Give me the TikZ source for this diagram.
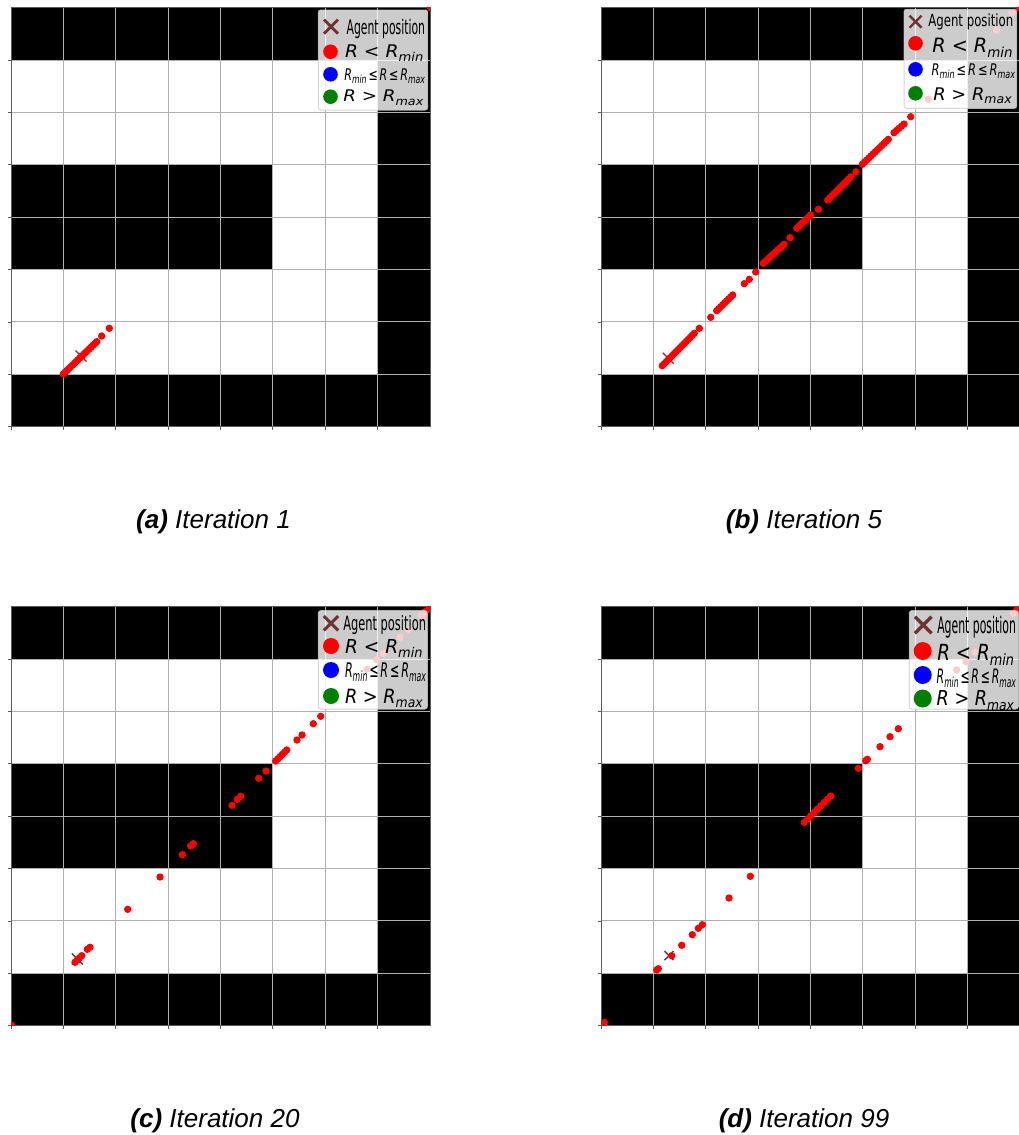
\documentclass[tikz,border=0pt]{standalone}
\usepackage{fontspec}
\setmainfont{Liberation Sans}
\newfontfamily\dvs{DejaVu Sans}
\usepackage{graphicx}
\usetikzlibrary{calc}
\definecolor{agent}{RGB}{110,50,50}
\definecolor{gridc}{RGB}{176,176,176}
\definecolor{spinec}{RGB}{90,90,90}
\definecolor{lgreen}{RGB}{0,128,0}
\tikzset{
 reddot/.style={fill=red},
 gridline/.style={draw=gridc, line width=1pt},
 spine/.style={draw=spinec, line width=1pt},
 tickmark/.style={draw=spinec, line width=0.8pt},
 legendbox/.style={fill=white, fill opacity=0.8, draw=gray!40, draw opacity=0.8, rounded corners=2.5pt, line width=1pt},
 lgtxt/.style={anchor=base west, inner sep=0pt, outer sep=0pt},
 agentx/.style={draw=agent, line width=1.4pt},
 legx/.style={draw=agent, line width=2.6pt},
 caption/.style={anchor=base, inner sep=0pt, font=\fontsize{26}{30}\selectfont},
}
\newcommand\C{52.375}
\newcommand\mapgrid[2]{%
\begin{scope}[shift={(#1,#2)}]
 \fill[black] (0,0) rectangle ({8*\C},{\C});
 \fill[black] (0,{7*\C}) rectangle ({8*\C},{8*\C});
 \fill[black] ({7*\C},{\C}) rectangle ({8*\C},{7*\C});
 \fill[black] (0,{3*\C}) rectangle ({5*\C},{5*\C});
 \foreach \k in {1,...,7}{
   \draw[gridline] ({\k*\C},0) -- ({\k*\C},{8*\C});
   \draw[gridline] (0,{\k*\C}) -- ({8*\C},{\k*\C});
 }
 \draw[spine] (0,0) rectangle ({8*\C},{8*\C});
 \foreach \k in {1,...,8}{\draw[tickmark] (-3.5,{\k*\C}) -- (0,{\k*\C});}
 \foreach \k in {0,...,7}{\draw[tickmark] ({\k*\C},{8*\C}) -- ({\k*\C},{8*\C+3.5});}
\end{scope}}
\newcommand\dt[2]{\fill[reddot] (#1,#2) circle (3.7pt);}
\newcommand\drun[5]{\foreach \i in {0,...,#5}{\fill[reddot] ($(#1,#2)!{\i/#5}!(#3,#4)$) circle (3.7pt);}}
\newcommand\ax[3]{\draw[agentx] ({#1-#3},{#2-#3}) -- ({#1+#3},{#2+#3}) ({#1-#3},{#2+#3}) -- ({#1+#3},{#2-#3});}
\newcommand\lx[4]{\draw[legx,line width=#4pt] ({#1-#3},{#2-#3}) -- ({#1+#3},{#2+#3}) ({#1-#3},{#2+#3}) -- ({#1+#3},{#2-#3});}
\newcommand\lt[6]{\node[lgtxt] (#1) at (#2,#3) {\resizebox{#4pt}{#5pt}{#6}};}
\newcommand\subtxt[1]{\raisebox{-0.22em}{\scalebox{0.7}{#1}}}
\newcommand\tAgent{\dvs Agent position}
\newcommand\tRmin{\dvs\itshape R < R\subtxt{min}}
\newcommand\tMid{\dvs\itshape R\subtxt{min}\,{\upshape ≤}\,R\,{\upshape ≤}\,R\subtxt{max}}
\newcommand\tRmax{\dvs\itshape R > R\subtxt{max}}
\begin{document}
\begin{tikzpicture}[x=1pt,y=-1pt]
\useasboundingbox (0,0) rectangle (1019,1135);
\fill[white] (0,0) rectangle (1019,1135);
\clip (0,0) rectangle (1019,1135);
% ---------- panel (a)
\mapgrid{11}{7.7}
\ax{81}{356}{5.5}
\begin{scope}
\clip (11,7.7) rectangle ({11+8*\C},{7.7+8*\C});
\drun{63.3}{374}{96.7}{341.7}{18}
\dt{101.7}{336}\dt{109.3}{328.3}\dt{430.5}{7.7}
\end{scope}
\draw[legendbox] (318.3,10) rectangle (427.7,110);
\lx{331}{26.7}{7}{2.8}
\fill[red] (330.5,51.7) circle (7.3pt);
\fill[blue] (330.5,74.3) circle (7.3pt);
\fill[lgreen] (330.5,96.7) circle (7.3pt);
\lt{la1}{346.7}{34.3}{78.3}{15.3}{\tAgent}
\lt{la2}{345}{57.7}{78.3}{12.7}{\tRmin}
\lt{la3}{344.3}{80}{80.7}{11.7}{\tMid}
\lt{la4}{343.3}{101.7}{80}{11.7}{\tRmax}
\node[caption] (capa) at (213.5,528) {\textbf{\textit{(a)}} \textit{Iteration 1}};
% ---------- panel (b)
\mapgrid{601}{7.7}
\ax{668.3}{358.3}{5.5}
\begin{scope}
\clip (601,7.7) rectangle ({601+8*\C},{7.7+8*\C});
\drun{662.3}{365.7}{694.3}{333.3}{16}
\dt{699.3}{328.3}\dt{710.7}{317.3}
\drun{716.7}{310.7}{732.7}{295}{8}
\dt{744.3}{283.7}\dt{749.3}{279.3}\dt{755.7}{272}
\drun{763.3}{263.3}{784}{244.3}{10}
\dt{790}{237.7}
\drun{796.7}{228.3}{810.7}{215}{7}
\dt{818.3}{209.3}
\drun{827.7}{200}{851}{176.7}{11}
\dt{856}{171.7}
\drun{862.3}{164.3}{888.3}{139.3}{12}
\drun{894}{132.7}{904}{124}{4}
\dt{910.7}{116.7}
\dt{928.3}{99.3}\dt{996.7}{30}\dt{1012}{13}\dt{1019}{7.7}
\end{scope}
\draw[legendbox] (904,9.3) rectangle (1016.7,108.3);
\lx{915.5}{21.7}{6}{2.4}
\fill[red] (915.5,43.3) circle (7.3pt);
\fill[blue] (915.5,69.3) circle (7.3pt);
\fill[lgreen] (915.5,93.3) circle (7.3pt);
\lt{lb1}{928.3}{26.7}{85}{12.7}{\tAgent}
\lt{lb2}{932.3}{52.7}{80.4}{14.4}{\tRmin}
\lt{lb3}{931.7}{75}{83.3}{11.7}{\tMid}
\lt{lb4}{933.3}{100}{78.4}{12.7}{\tRmax}
\node[caption] (capb) at (804,528) {\textbf{\textit{(b)}} \textit{Iteration 5}};
% ---------- panel (c)
\mapgrid{11}{606.7}
\ax{77.3}{959}{5.5}
\begin{scope}
\clip (11,606.7) rectangle ({11+8*\C},{606.7+8*\C});
\drun{75}{962.3}{81.7}{955.7}{3}
\dt{87.3}{949.3}\dt{90}{947.3}
\dt{127.7}{909.3}\dt{160}{877}\dt{182.3}{854.7}
\dt{190.7}{846}\dt{193.3}{843.7}
\dt{232}{805.3}\dt{237.3}{799.3}\dt{240.7}{796.3}
\dt{258.7}{778.3}\dt{266}{771}
\drun{275.7}{761}{286.7}{750}{5}
\dt{297}{740}\dt{302}{735}
\dt{313.3}{723.7}\dt{320.7}{716.3}
\dt{367}{669.3}\dt{376.7}{659.7}\dt{383.3}{653.3}\dt{400}{637.3}
\dt{408.3}{629.3}\dt{421.7}{615}\dt{425}{611.7}\dt{428.3}{609.3}
\dt{11.5}{1025}
\end{scope}
\draw[legendbox] (318.3,610.7) rectangle (427.3,709);
\lx{331}{623.3}{7.2}{3}
\fill[red] (331,646) circle (8pt);
\fill[blue] (331,670) circle (8pt);
\fill[lgreen] (331,696) circle (8pt);
\lt{lc1}{343.3}{630}{82.7}{15}{\tAgent}
\lt{lc2}{345}{653.3}{77.7}{14}{\tRmin}
\lt{lc3}{345}{677.3}{81}{14.7}{\tMid}
\lt{lc4}{345}{703.3}{77.7}{14.3}{\tRmax}
\node[caption] (capc) at (215,1127) {\textbf{\textit{(c)}} \textit{Iteration 20}};
% ---------- panel (d)
\mapgrid{601}{606.7}
\ax{669}{955.7}{4.5}
\begin{scope}
\clip (601,606.7) rectangle ({601+8*\C},{606.7+8*\C});
\dt{604.3}{1022.3}
\dt{656.7}{970}\dt{658.3}{968.7}
\dt{671.7}{955.7}\dt{681.7}{945.3}\dt{692.3}{934.7}
\dt{698.3}{928.3}\dt{702.3}{924.7}
\dt{729}{898}\dt{750.3}{876.3}
\drun{804.3}{822.3}{830.7}{796}{8}
\dt{858.3}{768.3}\dt{865.7}{760.7}\dt{867.3}{759.3}
\dt{880}{746.7}\dt{890}{736.7}\dt{898.3}{728.7}
\dt{956.7}{670}\dt{966}{661.7}\dt{975}{652.3}\dt{1013.3}{613.3}\dt{1016.7}{610}
\end{scope}
\draw[legendbox] (909.3,610.7) rectangle (1018.3,709);
\lx{923.3}{625}{8.3}{3.3}
\fill[red] (922.7,651) circle (9pt);
\fill[blue] (922.7,675) circle (9pt);
\fill[lgreen] (922.7,698.5) circle (9pt);
\lt{ld1}{937.3}{633.3}{78.7}{17.3}{\tAgent}
\lt{ld2}{937.3}{660.5}{76.7}{16.2}{\tRmin}
\lt{ld3}{936.7}{683.5}{79.3}{14.5}{\tMid}
\lt{ld4}{936.7}{705.5}{77.3}{15}{\tRmax}
\node[caption] (capd) at (804,1127) {\textbf{\textit{(d)}} \textit{Iteration 99}};
\end{tikzpicture}
\end{document}
